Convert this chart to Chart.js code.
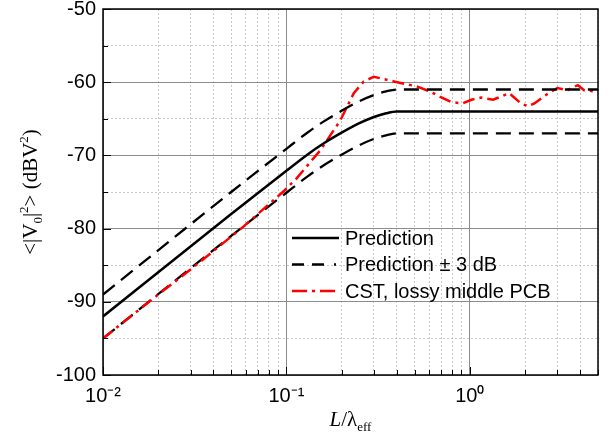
<!DOCTYPE html>
<html>
<head>
<meta charset="utf-8">
<script src="https://cdn.jsdelivr.net/npm/chart.js@4.4.1/dist/chart.umd.min.js"></script>
<style>
  html, body { margin: 0; padding: 0; background: #fff; }
</style>
</head>
<body>
<canvas id="chart" width="615" height="436"></canvas>
<script>
// values (x = L / lambda_eff, y in dBV^2)
var predX  = [0.01, 0.05, 0.1, 0.13, 0.16, 0.2, 0.25, 0.3, 0.35, 0.4, 5];
var predY  = [-92, -78.0, -72.1, -69.9, -68.35, -66.9, -65.6, -64.75, -64.25, -64.0, -64.0];
var upperY = [-89, -75.0, -69.1, -66.9, -65.35, -63.9, -62.6, -61.75, -61.25, -61.0, -61.0];
var lowerY = [-95, -81.0, -75.1, -72.9, -71.35, -69.9, -68.6, -67.75, -67.25, -67.0, -67.0];

var cstX = [0.01, 0.0205, 0.03, 0.0585, 0.0966, 0.114, 0.153, 0.197, 0.233, 0.264, 0.30,
            0.386, 0.518, 0.61, 0.69, 0.79, 0.91, 1.02, 1.15, 1.34, 1.64, 1.9, 2.08,
            2.25, 2.6, 3.0, 3.4, 3.88, 4.2, 5.0];
var cstY = [-95.0, -88.8, -85.6, -79.7, -74.9, -73.1, -69.3, -65.2, -61.5, -59.9, -59.25,
            -59.9, -60.6, -61.3, -62.0, -62.7, -62.9, -62.4, -62.1, -62.4, -61.5, -62.9, -63.3,
            -62.9, -61.75, -60.8, -61.1, -60.4, -61.1, -61.3];

var xTicks = [0.01, 0.02, 0.03, 0.04, 0.05, 0.06, 0.07, 0.08, 0.09,
              0.1, 0.2, 0.3, 0.4, 0.5, 0.6, 0.7, 0.8, 0.9, 1, 2, 3, 4, 5];
var xDecades = [0.01, 0.1, 1];
var xDecadeLabels = ['10\u207B\u00B2', '10\u207B\u00B9', '10\u2070'];
var yTicks = [-100, -95, -90, -85, -80, -75, -70, -65, -60, -55, -50];
var yMajor = [-100, -90, -80, -70, -60, -50];

var sans = "'Liberation Sans', Arial, sans-serif";
var serif = "'Liberation Serif', 'Times New Roman', serif";

function pts(xs, ys) {
    return xs.map(function (x, i) { return { x: x, y: ys[i] }; });
}
function decadeIndex(v) {
    for (var i = 0; i < xDecades.length; i++) {
        if (Math.abs(v - xDecades[i]) < xDecades[i] * 1e-6) return i;
    }
    return -1;
}

function drawRich(ctx, parts, x, y) {
    var total = 0;
    parts.forEach(function (p) {
        ctx.font = p.font;
        p.w = ctx.measureText(p.t).width;
        total += p.w;
    });
    var cx = x - total / 2;
    parts.forEach(function (p) {
        ctx.font = p.font;
        ctx.fillText(p.t, cx, y + (p.dy || 0));
        cx += p.w;
    });
}

var decor = {
    id: 'decor',
    afterDraw: function (chart) {
        var ctx = chart.ctx, a = chart.chartArea;
        var xs = chart.scales.x, ys = chart.scales.y;
        ctx.save();

        // frame
        ctx.strokeStyle = '#000';
        ctx.lineWidth = 1.5;
        ctx.setLineDash([]);
        ctx.strokeRect(a.left, a.top, a.right - a.left, a.bottom - a.top);

        // inward tick marks
        ctx.lineWidth = 1;
        xTicks.forEach(function (v) {
            var px = Math.round(xs.getPixelForValue(v)) + 0.5;
            var len = decadeIndex(v) >= 0 ? 8 : 5;
            ctx.beginPath();
            ctx.moveTo(px, a.bottom);
            ctx.lineTo(px, a.bottom - len);
            ctx.stroke();
        });
        yTicks.forEach(function (v) {
            var py = Math.round(ys.getPixelForValue(v)) + 0.5;
            var len = v % 10 === 0 ? 8 : 5;
            ctx.beginPath();
            ctx.moveTo(a.left, py);
            ctx.lineTo(a.left + len, py);
            ctx.stroke();
        });

        // legend
        var lx = 292, ly = 238, row = 26.5;
        ctx.textBaseline = 'middle';
        ctx.textAlign = 'left';
        chart.data.datasets.forEach(function (ds, i) {
            if (!ds.label) return;
            var y = ly + row * i;
            ctx.strokeStyle = ds.borderColor;
            ctx.lineWidth = ds.borderWidth;
            ctx.setLineDash(ds.legendDash || []);
            ctx.beginPath();
            ctx.moveTo(lx, y);
            ctx.lineTo(lx + 47, y);
            ctx.stroke();
            ctx.setLineDash([]);
            ctx.fillStyle = '#000';
            ctx.font = '20px ' + sans;
            ctx.fillText(ds.label, lx + 53, y + 1);
        });

        // axis titles
        ctx.fillStyle = '#000';
        ctx.textBaseline = 'alphabetic';
        drawRich(ctx, [
            { t: 'L', font: 'italic 21px ' + serif },
            { t: '/\u03BB', font: '21px ' + serif },
            { t: 'eff', font: '13px ' + serif, dy: 5 }
        ], (a.left + a.right) / 2, 426);

        ctx.translate(37, (a.top + a.bottom) / 2);
        ctx.rotate(-Math.PI / 2);
        drawRich(ctx, [
            { t: '<|V', font: '21px ' + serif },
            { t: '0', font: '13px ' + serif, dy: 5 },
            { t: '|', font: '21px ' + serif },
            { t: '2', font: '13px ' + serif, dy: -9 },
            { t: '> (dBV', font: '21px ' + serif },
            { t: '2', font: '13px ' + serif, dy: -9 },
            { t: ')', font: '21px ' + serif }
        ], 0, 0);

        ctx.restore();
    }
};

new Chart(document.getElementById('chart').getContext('2d'), {
    type: 'line',
    data: {
        datasets: [{
            label: 'Prediction',
            data: pts(predX, predY),
            borderColor: '#000',
            borderWidth: 2.5,
            cubicInterpolationMode: 'monotone',
            pointRadius: 0
        }, {
            label: 'Prediction \u00B1 3 dB',
            data: pts(predX, upperY),
            borderColor: '#000',
            borderWidth: 2.3,
            borderDash: [15, 8],
            legendDash: [12, 8, 12, 10, 2, 4],
            cubicInterpolationMode: 'monotone',
            pointRadius: 0
        }, {
            label: 'CST, lossy middle PCB',
            data: pts(cstX, cstY),
            borderColor: '#ff0000',
            borderWidth: 2.5,
            borderDash: [12, 5, 3, 5],
            legendDash: [15, 5, 3, 5],
            tension: 0,
            pointRadius: 0
        }, {
            label: '',
            data: pts(predX, lowerY),
            borderColor: '#000',
            borderWidth: 2.3,
            borderDash: [15, 8],
            cubicInterpolationMode: 'monotone',
            pointRadius: 0
        }]
    },
    options: {
        responsive: false,
        animation: false,
        layout: { padding: { top: 0, right: 17, left: 0, bottom: 0 } },
        plugins: { legend: { display: false }, tooltip: { enabled: false } },
        scales: {
            x: {
                type: 'logarithmic',
                position: 'bottom',
                min: 0.01,
                max: 5,
                afterBuildTicks: function (s) { s.ticks = xTicks.map(function (v) { return { value: v }; }); },
                afterFit: function (s) { s.height = 61; },
                ticks: {
                    autoSkip: false,
                    maxRotation: 0,
                    padding: 9,
                    color: '#000',
                    font: { family: sans, size: 20 },
                    callback: function (v) {
                        var i = decadeIndex(v);
                        return i >= 0 ? xDecadeLabels[i] : '';
                    }
                },
                grid: {
                    drawTicks: false,
                    lineWidth: 1,
                    color: function (c) {
                        return c.tick && decadeIndex(c.tick.value) >= 0 ? 'rgba(0,0,0,0)' : '#c8c8c8';
                    }
                },
                border: { display: false, dash: [2, 2] }
            },
            xMajor: {
                type: 'logarithmic',
                position: 'bottom',
                min: 0.01,
                max: 5,
                afterBuildTicks: function (s) { s.ticks = xDecades.map(function (v) { return { value: v }; }); },
                afterFit: function (s) { s.height = 0; },
                ticks: { display: false },
                grid: { drawTicks: false, color: '#8c8c8c', lineWidth: 1 },
                border: { display: false }
            },
            y: {
                type: 'linear',
                position: 'left',
                min: -100,
                max: -50,
                afterBuildTicks: function (s) { s.ticks = yTicks.map(function (v) { return { value: v }; }); },
                afterFit: function (s) { s.width = 103; },
                ticks: {
                    padding: 7,
                    color: '#000',
                    font: { family: sans, size: 20, lineHeight: 0.2 },
                    callback: function (v) { return v % 10 === 0 ? String(v) : ''; }
                },
                grid: {
                    drawTicks: false,
                    lineWidth: 1,
                    color: function (c) {
                        return c.tick && c.tick.value % 10 === 0 ? 'rgba(0,0,0,0)' : '#c8c8c8';
                    }
                },
                border: { display: false, dash: [2, 2] }
            },
            yMajor: {
                type: 'linear',
                position: 'left',
                min: -100,
                max: -50,
                afterBuildTicks: function (s) { s.ticks = yMajor.map(function (v) { return { value: v }; }); },
                afterFit: function (s) { s.width = 0; },
                ticks: { display: false },
                grid: { drawTicks: false, color: '#8c8c8c', lineWidth: 1 },
                border: { display: false }
            }
        }
    },
    plugins: [decor]
});
</script>
</body>
</html>
